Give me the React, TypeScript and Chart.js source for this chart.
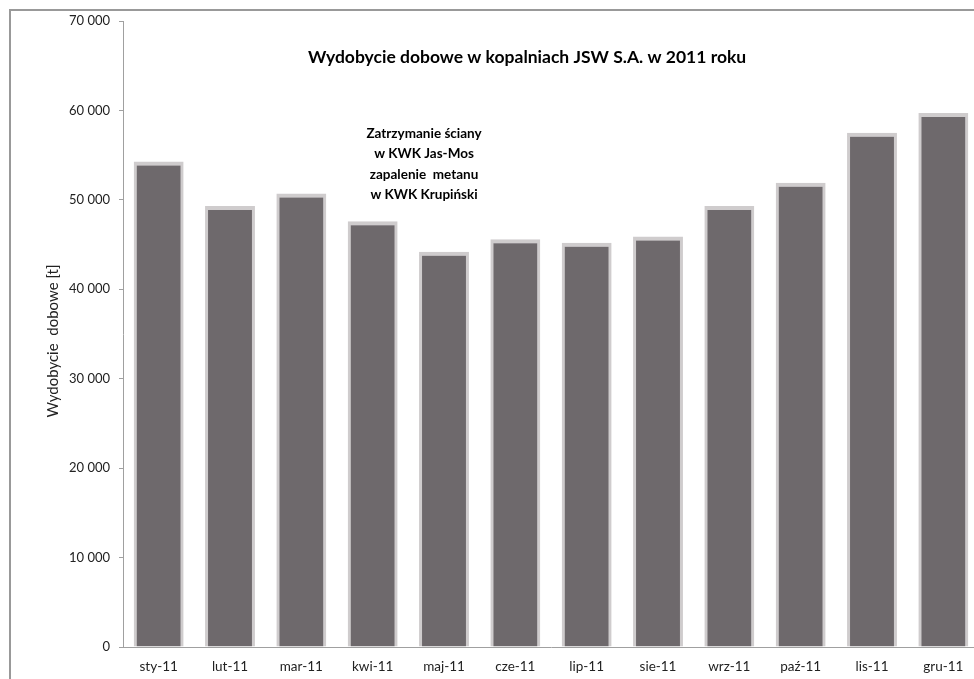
import React, { useEffect, useRef } from "react";
import { Chart, registerables } from "chart.js";

Chart.register(...registerables);

const categories = ["sty-11", "lut-11", "mar-11", "kwi-11", "maj-11", "cze-11", "lip-11", "sie-11", "wrz-11", "paź-11", "lis-11", "gru-11"];
const dailyOutput = [54300, 49300, 50700, 47600, 44200, 45600, 45200, 45900, 49300, 51900, 57500, 59700];
const yTicks = [0, 10000, 20000, 30000, 40000, 50000, 60000, 70000];
const chartTitle = "Wydobycie dobowe w kopalniach JSW S.A. w 2011 roku";
const yTitle = "Wydobycie  dobowe [t]";
const noteLines = ["Zatrzymanie ściany", "w KWK Jas-Mos", "zapalenie  metanu", "w KWK Krupiński"];

const FONT = "Lato, 'Open Sans', sans-serif";

const fmt = (v: number) => String(v).replace(/\B(?=(\d{3})+(?!\d))/g, " ");

const textPlugin = {
  id: "texts",
  afterDraw(chart: any) {
    const { ctx, chartArea, scales } = chart;
    const x = scales.x;
    const y = scales.y;
    ctx.save();
    ctx.fillStyle = "#000";
    ctx.textAlign = "center";
    ctx.textBaseline = "middle";
    ctx.font = `bold 17.5px ${FONT}`;
    ctx.fillText(chartTitle, chartArea.left + (chartArea.right - chartArea.left) * 0.472, y.getPixelForValue(65950));
    ctx.font = `bold 13.5px ${FONT}`;
    const nx = x.getPixelForValue(3.72);
    const ny0 = y.getPixelForValue(57450);
    noteLines.forEach((l, i) => ctx.fillText(l, nx, ny0 + i * 20.5));
    ctx.font = `15px ${FONT}`;
    ctx.fillStyle = "#222";
    ctx.translate(53, (chartArea.top + chartArea.bottom) / 2 + 7);
    ctx.rotate(-Math.PI / 2);
    ctx.fillText(yTitle, 0, 0);
    ctx.restore();
  },
};

export default function App() {
  const ref = useRef<HTMLCanvasElement>(null);
  useEffect(() => {
    if (!ref.current) return;
    const chart = new Chart(ref.current, {
      type: "bar",
      data: {
        labels: categories,
        datasets: [
          {
            data: dailyOutput,
            backgroundColor: "#6e696c",
            borderColor: "#cfcccd",
            borderWidth: { top: 4, left: 3, right: 3, bottom: 0 } as any,
            borderSkipped: false as any,
            barPercentage: 0.7,
            categoryPercentage: 1,
          },
        ],
      },
      options: {
        animation: false,
        responsive: false,
        maintainAspectRatio: false,
        layout: { padding: { left: 0, top: 21, right: 21, bottom: 0 } },
        plugins: { legend: { display: false }, tooltip: { enabled: false }, title: { display: false } },
        scales: {
          x: {
            grid: { drawOnChartArea: false, drawTicks: false },
            border: { display: true, color: "#a0a0a0", width: 1 },
            ticks: { font: { family: FONT, size: 13.5 }, color: "#222", padding: 12, maxRotation: 0 },
            afterFit: (s: any) => { s.height = 32; },
          },
          y: {
            min: 0,
            max: 70000,
            afterBuildTicks: (s: any) => { s.ticks = yTicks.map((v) => ({ value: v })); },
            grid: { drawOnChartArea: false, drawTicks: true, tickLength: 4, color: "#a0a0a0" },
            border: { display: true, color: "#a0a0a0", width: 1 },
            ticks: { font: { family: FONT, size: 13 }, color: "#222", padding: 9, callback: (v: any) => fmt(Number(v)) },
            afterFit: (s: any) => { s.width = 123; },
          },
        },
      },
      plugins: [textPlugin],
    });
    return () => chart.destroy();
  }, []);
  return (
    <div style={{ position: "fixed", left: 0, top: 0, width: 974, height: 679, overflow: "hidden", background: "#fff" }}>
      <div style={{ position: "absolute", left: 9, top: 9, width: 1100, height: 800, borderTop: "2px solid #999", borderLeft: "2px solid #999" }} />
      <canvas ref={ref} width={1000} height={679} style={{ position: "absolute", left: 0, top: 0, width: 1000, height: 679 }} />
    </div>
  );
}
